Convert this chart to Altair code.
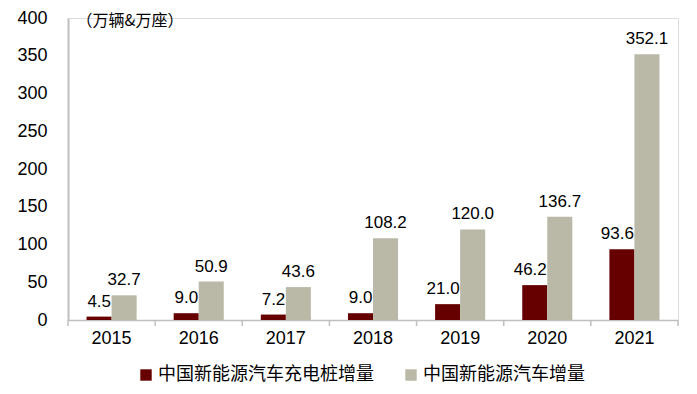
import altair as alt
import pandas as pd

years = ["2015", "2016", "2017", "2018", "2019", "2020", "2021"]
chargers = [4.5, 9.0, 7.2, 9.0, 21.0, 46.2, 93.6]
vehicles = [32.7, 50.9, 43.6, 108.2, 120.0, 136.7, 352.1]
series_names = ["中国新能源汽车充电桩增量", "中国新能源汽车增量"]
series_colors = ["#660000", "#bab8a6"]
y_ticks = [0, 50, 100, 150, 200, 250, 300, 350, 400]

rows = []
for y, c, v in zip(years, chargers, vehicles):
    rows.append({"year": y, "series": series_names[0], "value": c, "label": f"{c:.1f}"})
    rows.append({"year": y, "series": series_names[1], "value": v, "label": f"{v:.1f}"})
df = pd.DataFrame(rows)

W, H = 610, 302
FONT = "Liberation Sans, Noto Sans CJK SC"
CJK = "Noto Sans CJK SC, Liberation Sans"

x_enc = alt.X(
    "year:N",
    title=None,
    sort=years,
    scale=alt.Scale(paddingInner=0, paddingOuter=0),
    axis=alt.Axis(
        labelAngle=0, ticks=False, labelFontSize=18, labelFont=FONT,
        labelColor="#000000", labelPadding=9, domainColor="#bfbfbf",
        domainWidth=1.5, grid=False,
    ),
)
xoff = alt.XOffset("series:N", sort=series_names,
                   scale=alt.Scale(paddingOuter=0.74, paddingInner=0))
y_enc = alt.Y(
    "value:Q",
    scale=alt.Scale(domain=[0, 400], nice=False),
    axis=alt.Axis(
        values=y_ticks, ticks=False, grid=False, labelFontSize=18,
        labelFont=FONT, labelColor="#000000", labelPadding=21,
        domainColor="#bfbfbf", domainWidth=2,
        title="（万辆&万座）", titleAngle=0, titleAlign="left",
        titleBaseline="middle", titleX=8, titleY=2, titleFontSize=16,
        titleFont=CJK, titleFontWeight="normal", titleColor="#000000",
    ),
)

base = alt.Chart(df)

bars = base.mark_bar().encode(
    x=x_enc,
    xOffset=xoff,
    y=y_enc,
    color=alt.Color(
        "series:N",
        sort=series_names,
        scale=alt.Scale(domain=series_names, range=series_colors),
        legend=alt.Legend(
            title=None, orient="none", legendX=69, legendY=348,
            direction="horizontal", symbolType="square", symbolSize=130,
            symbolStrokeWidth=0, labelFontSize=18, labelFont=CJK,
            labelColor="#000000", columnPadding=28, labelOffset=3, padding=0,
            labelLimit=0,
        ),
    ),
)

text_dark = base.transform_filter(
    alt.datum.series == series_names[0]
).mark_text(
    align="right", baseline="alphabetic", dx=12, dy=-10,
    fontSize=17, font=FONT, color="#000000",
).encode(x=x_enc, xOffset=xoff, y=y_enc, text="label:N")

text_gray = base.transform_filter(
    alt.datum.series == series_names[1]
).mark_text(
    align="center", baseline="alphabetic", dy=-10,
    fontSize=17, font=FONT, color="#000000",
).encode(x=x_enc, xOffset=xoff, y=y_enc, text="label:N")

tick_df = pd.DataFrame({"year": years})
ticks_start = alt.Chart(tick_df).mark_rule(color="#bfbfbf", strokeWidth=1.5).encode(
    x=alt.X("year:N", sort=years, bandPosition=0),
    y=alt.value(H),
    y2=alt.value(H + 6),
)
ticks_end = alt.Chart(tick_df).transform_filter(
    alt.datum.year == years[-1]
).mark_rule(color="#bfbfbf", strokeWidth=1.5).encode(
    x=alt.X("year:N", sort=years, bandPosition=1),
    y=alt.value(H),
    y2=alt.value(H + 6),
)

chart = alt.layer(bars, text_dark, text_gray, ticks_start, ticks_end).properties(
    width=W, height=H,
    autosize=alt.AutoSizeParams(type="none"),
    padding={"left": 60, "top": 10, "right": 11, "bottom": 66},
).configure_view(stroke=None).configure(background="#ffffff")

chart.save("out.html", embed_options={"renderer": "svg", "actions": False})
